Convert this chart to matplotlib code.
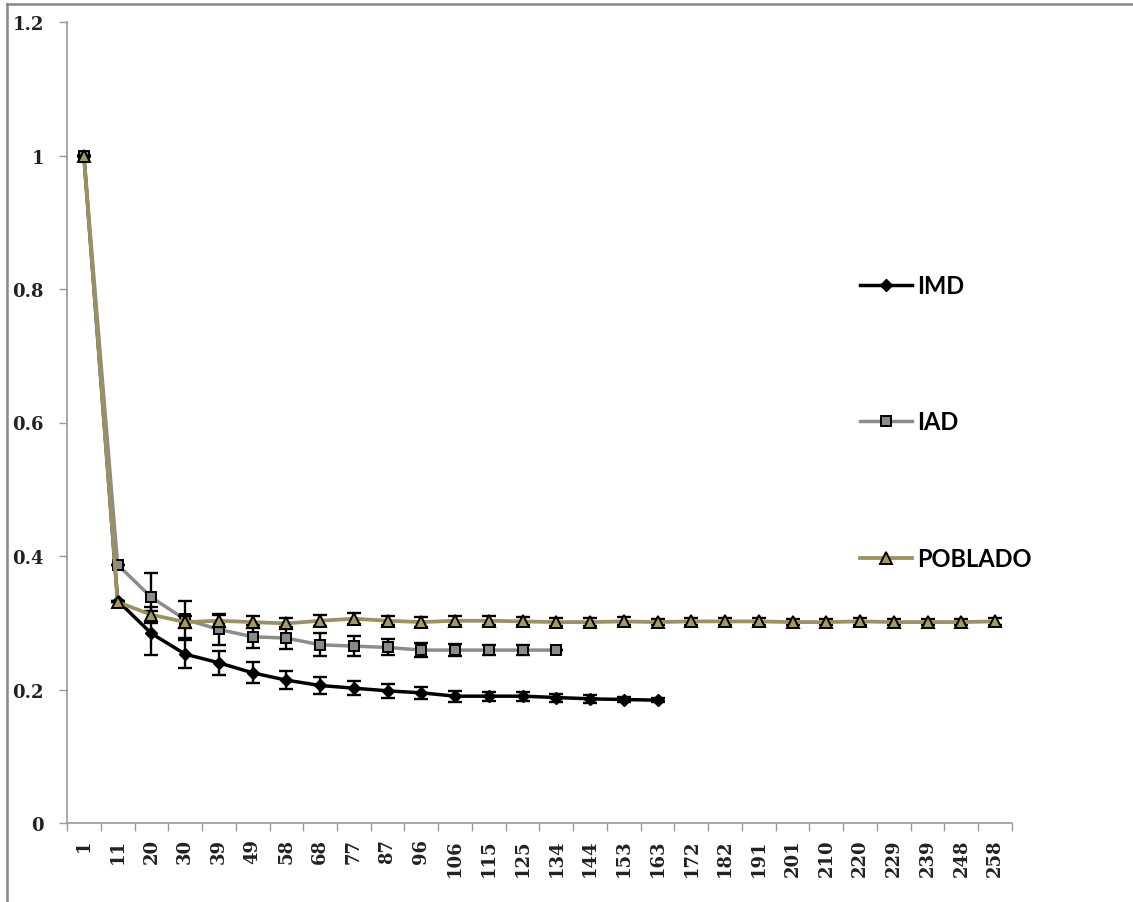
import matplotlib
matplotlib.use("Agg")
import matplotlib.pyplot as plt
from matplotlib.lines import Line2D
import numpy as np

categories = ["1", "11", "20", "30", "39", "49", "58", "68", "77", "87", "96", "106", "115",
              "125", "134", "144", "153", "163", "172", "182", "191", "201", "210", "220",
              "229", "239", "248", "258"]

imd = [1.0, 0.333, 0.284, 0.253, 0.240, 0.225, 0.214, 0.206, 0.202, 0.198, 0.195, 0.190,
       0.190, 0.190, 0.188, 0.186, 0.185, 0.184]
imd_err = [0, 0, 0.033, 0.021, 0.018, 0.016, 0.013, 0.013, 0.010, 0.010, 0.009, 0.008,
           0.007, 0.007, 0.006, 0.006, 0.004, 0.003]

iad = [1.0, 0.387, 0.338, 0.305, 0.290, 0.279, 0.277, 0.267, 0.265, 0.263, 0.259, 0.259,
       0.259, 0.259, 0.259]
iad_err = [0, 0, 0.037, 0.028, 0.023, 0.017, 0.016, 0.017, 0.015, 0.012, 0.010, 0.009,
           0.008, 0.007, 0]

poblado = [1.0, 0.331, 0.312, 0.301, 0.303, 0.301, 0.299, 0.303, 0.306, 0.303, 0.301, 0.303,
           0.303, 0.302, 0.301, 0.301, 0.302, 0.301, 0.302, 0.302, 0.302, 0.301, 0.301, 0.302,
           0.301, 0.301, 0.301, 0.302]
poblado_err = [0, 0, 0.012, 0.009, 0.009, 0.009, 0.008, 0.008, 0.008, 0.007, 0.007, 0.007,
               0.007, 0.006, 0.006, 0.006, 0.006, 0.005, 0.005, 0.005, 0.005, 0.005, 0.005,
               0.005, 0.005, 0.005, 0.005, 0.005]

yticks = [0, 0.2, 0.4, 0.6, 0.8, 1, 1.2]
ytick_labels = ["0", "0.2", "0.4", "0.6", "0.8", "1", "1.2"]

W, H = 1133, 903
fig = plt.figure(figsize=(W / 100, H / 100), dpi=100)
ax = fig.add_axes([67 / W, 1 - 824 / H, (1012 - 67) / W, (824 - 23) / H])

olive = "#9A9060"
olive_fill = "#A39A62"
gray = "#8C8C8C"

x_imd = np.arange(len(imd))
x_iad = np.arange(len(iad))
x_pob = np.arange(len(poblado))

ax.errorbar(x_imd, imd, yerr=imd_err, fmt="none", ecolor="black", elinewidth=1.7,
            capsize=5, capthick=1.7, zorder=2)
l1, = ax.plot(x_imd, imd, color="black", lw=2.5, marker="D", ms=6, mfc="black",
              mec="black", zorder=3, label="IMD")

ax.errorbar(x_iad, iad, yerr=iad_err, fmt="none", ecolor="black", elinewidth=1.7,
            capsize=5, capthick=1.7, zorder=4)
l2, = ax.plot(x_iad, iad, color=gray, lw=2.5, marker="s", ms=6.5, mfc="#8A8A8A",
              mec="black", mew=1.4, zorder=5, label="IAD")

ax.errorbar(x_pob, poblado, yerr=poblado_err, fmt="none", ecolor="black", elinewidth=1.7,
            capsize=5, capthick=1.7, zorder=6)
l3, = ax.plot(x_pob, poblado, color=olive, lw=2.7, marker="^", ms=8, mfc=olive_fill,
              mec="black", mew=1.4, zorder=7, label="POBLADO")

ax.set_xlim(-0.5, len(categories) - 0.5)
ax.set_ylim(0, 1.2)

ax.set_xticks(np.arange(len(categories)))
ax.set_xticklabels(categories, rotation=90, family="DejaVu Serif", fontsize=13,
                   weight="bold", color="#222222", va="top", ha="center")
ax.set_xticks(np.arange(len(categories) + 1) - 0.5, minor=True)
ax.tick_params(axis="x", which="major", length=0, pad=11)
ax.tick_params(axis="x", which="minor", length=6, width=1, color="#999999")

ax.set_yticks(yticks)
ax.set_yticklabels(ytick_labels, family="DejaVu Serif", fontsize=13, weight="bold",
                   color="#222222")
ax.tick_params(axis="y", length=5.5, width=1, color="#999999", pad=11)

for s in ["top", "right"]:
    ax.spines[s].set_visible(False)
for s in ["left", "bottom"]:
    ax.spines[s].set_color("#999999")
    ax.spines[s].set_linewidth(1.2)

leg = fig.legend(handles=[l1, l2, l3], labels=["IMD", "IAD", "POBLADO"],
                 loc="center left", bbox_to_anchor=(860 / W, 1 - 423 / H),
                 frameon=False, borderpad=0, borderaxespad=0, numpoints=1,
                 handlelength=2.2, handletextpad=0.22, labelspacing=4.8,
                 prop={"family": "Lato", "weight": "bold", "size": 17})

# outer chart border (top and left visible)
fig.add_artist(Line2D([7 / W, 1], [1 - 5 / H, 1 - 5 / H], color="#888888", lw=1.8,
                      transform=fig.transFigure))
fig.add_artist(Line2D([7 / W, 7 / W], [0, 1 - 5 / H], color="#888888", lw=1.8,
                      transform=fig.transFigure))

fig.savefig("out.png", dpi=100)
